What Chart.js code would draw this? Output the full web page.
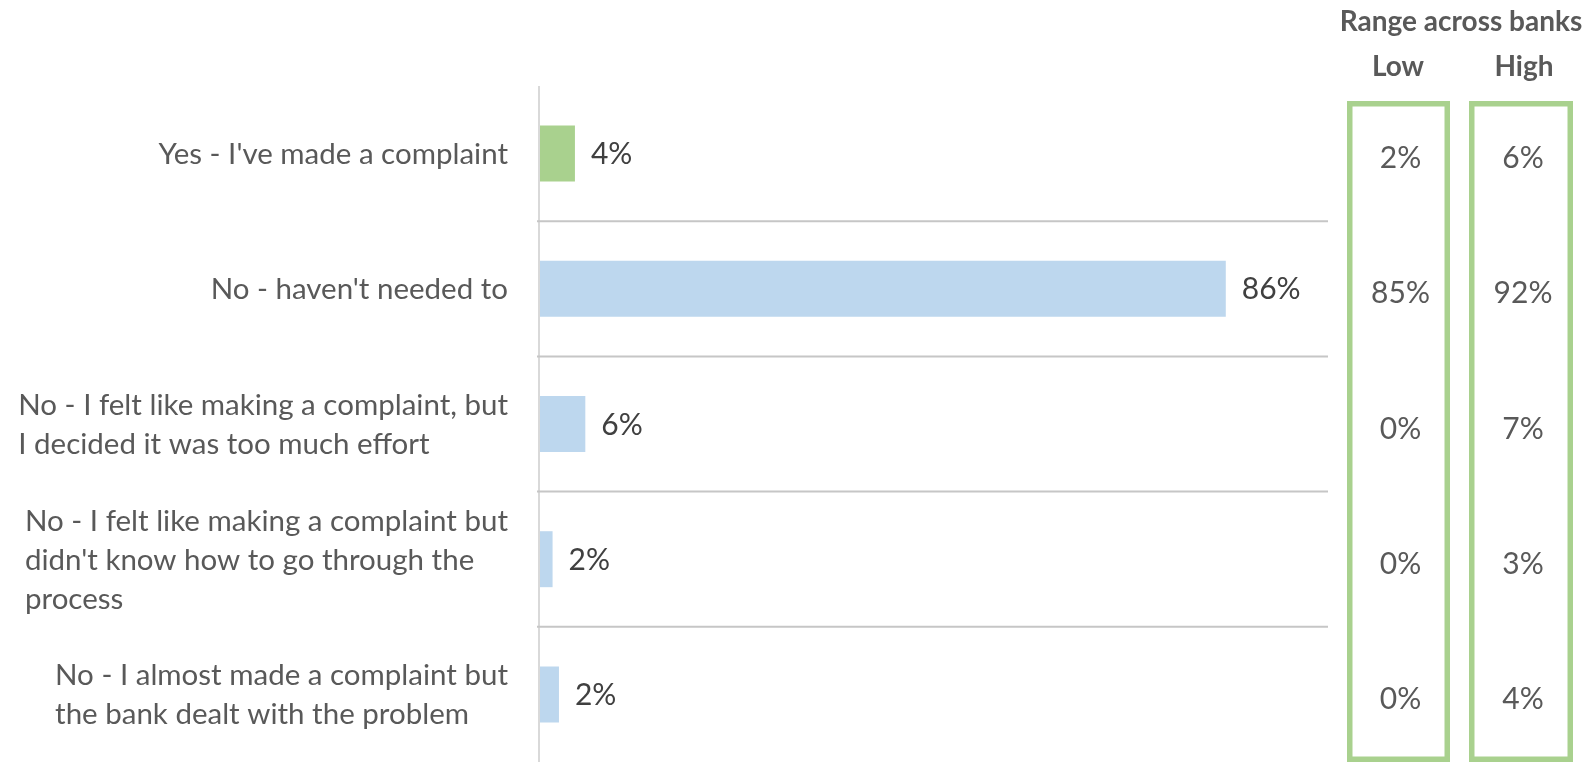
<!DOCTYPE html>
<html>
<head>
<meta charset="utf-8">
<script src="https://cdn.jsdelivr.net/npm/chart.js@4"></script>
<style>
  html, body { margin: 0; padding: 0; background: #ffffff; }
  #wrap { width: 1596px; height: 762px; }
</style>
</head>
<body>
<div id="wrap"><canvas id="c" width="1596" height="762"></canvas></div>
<script>
// ---- data ----
const categories = [
  ["Yes - I've made a complaint"],
  ["No - haven't needed to"],
  ["No - I felt like making a complaint, but", "I decided it was too much effort"],
  ["No - I felt like making a complaint but", "didn't know how to go through the", "process"],
  ["No - I almost made a complaint but", "the bank dealt with the problem"]
];
const values = [4.5, 86, 5.8, 1.7, 2.5];
const valueLabels = ["4%", "86%", "6%", "2%", "2%"];
const rangeTitle = "Range across banks";
const rangeHeaders = ["Low", "High"];
const lowLabels = ["2%", "85%", "0%", "0%", "0%"];
const highLabels = ["6%", "92%", "7%", "3%", "4%"];

// ---- styles ----
const FONT = 'Lato, "Open Sans", sans-serif';
const GREEN = '#a9d18e';
const BLUE = '#bdd7ee';
const barColors = [GREEN, BLUE, BLUE, BLUE, BLUE];
const TEXT = '#595959';
const VALTEXT = '#404040';

const overlay = {
  id: 'overlay',
  afterDatasetsDraw(chart) {
    const ctx = chart.ctx;
    const ca = chart.chartArea;
    const y = chart.scales.y;
    const meta = chart.getDatasetMeta(0);
    ctx.save();

    // axis line
    ctx.strokeStyle = '#d9d9d9';
    ctx.lineWidth = 2;
    ctx.beginPath();
    ctx.moveTo(ca.left, ca.top);
    ctx.lineTo(ca.left, ca.bottom);
    ctx.stroke();

    // separators between categories
    ctx.strokeStyle = '#c6c6c6';
    ctx.lineWidth = 2;
    for (let i = 0; i < categories.length - 1; i++) {
      const yy = (y.getPixelForValue(i) + y.getPixelForValue(i + 1)) / 2;
      ctx.beginPath();
      ctx.moveTo(ca.left - 2, yy);
      ctx.lineTo(ca.right, yy);
      ctx.stroke();
    }

    // category labels (left-aligned blocks, right edge fixed)
    const catSize = 29.5, lineH = 39, cap = catSize * 0.7165;
    ctx.font = catSize + 'px ' + FONT;
    ctx.fillStyle = TEXT;
    ctx.textAlign = 'left';
    ctx.textBaseline = 'alphabetic';
    chart.data.labels.forEach((lines, i) => {
      const cy = y.getPixelForValue(i);
      const w = Math.max(...lines.map(l => ctx.measureText(l).width));
      const x0 = ca.left - 31 - w;
      const b1 = cy - ((lines.length - 1) * lineH - cap) / 2;
      lines.forEach((l, k) => ctx.fillText(l, x0, b1 + k * lineH));
    });

    // value labels
    ctx.font = '30px ' + FONT;
    ctx.fillStyle = VALTEXT;
    ctx.textBaseline = 'middle';
    meta.data.forEach((bar, i) => {
      ctx.fillText(valueLabels[i], bar.x + 16, bar.y + 1);
    });

    // range boxes
    const boxes = [
      { left: 1347, right: 1450, labels: lowLabels, head: rangeHeaders[0] },
      { left: 1469, right: 1573, labels: highLabels, head: rangeHeaders[1] }
    ];
    const bw = 5.5;
    ctx.strokeStyle = GREEN;
    ctx.lineWidth = bw;
    boxes.forEach(b => {
      ctx.strokeRect(b.left + bw / 2, 101 + bw / 2, b.right - b.left - bw, 762 - 101 - bw);
    });

    ctx.fillStyle = TEXT;
    ctx.textAlign = 'center';
    ctx.textBaseline = 'middle';
    ctx.font = '30px ' + FONT;
    boxes.forEach(b => {
      const cx = (b.left + b.right) / 2 + 2;
      b.labels.forEach((t, i) => {
        ctx.fillText(t, cx, y.getPixelForValue(i) + 5);
      });
    });

    // headers
    ctx.font = 'bold 28px ' + FONT;
    ctx.textBaseline = 'alphabetic';
    ctx.fillText(rangeTitle, 1461, 31);
    ctx.fillText(rangeHeaders[0], 1398, 76);
    ctx.fillText(rangeHeaders[1], 1524, 76);

    ctx.restore();
  }
};

new Chart(document.getElementById('c'), {
  type: 'bar',
  data: {
    labels: categories,
    datasets: [{
      data: values,
      backgroundColor: barColors,
      borderWidth: 0,
      barPercentage: 0.414,
      categoryPercentage: 1
    }]
  },
  options: {
    indexAxis: 'y',
    responsive: false,
    animation: false,
    devicePixelRatio: 1,
    layout: { padding: { top: 86, right: 268, bottom: 0, left: 0 } },
    plugins: { legend: { display: false }, tooltip: { enabled: false }, title: { display: false } },
    scales: {
      x: { display: false, min: 0, max: 98.8 },
      y: {
        ticks: { display: false },
        grid: { display: false },
        border: { display: false },
        afterFit(s) { s.width = 539; }
      }
    }
  },
  plugins: [overlay]
});
</script>
</body>
</html>
